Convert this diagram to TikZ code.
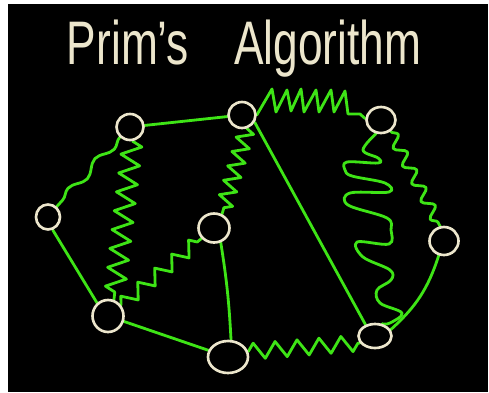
\documentclass[tikz,border=0pt]{standalone}
\usepackage{fontspec}
\setmainfont{Liberation Sans}
\usepackage{xcolor}
\usepackage{tikz}
\usetikzlibrary{shapes.geometric, decorations.pathmorphing, backgrounds, positioning}

\definecolor{chalk}{RGB}{236,230,204}
\definecolor{wire}{RGB}{62,228,22}

\begin{document}
\begin{tikzpicture}[x=0.02cm, y=-0.02cm,
    vertex/.style={ellipse, draw=chalk, line width=1.5pt, fill=black, inner sep=0pt, minimum width=0.54cm, minimum height=0.52cm},
    link/.style={draw=wire, line width=1.6pt, line cap=round, line join=round},
    zig/.style 2 args={link, decorate, decoration={zigzag, amplitude=#1, segment length=#2}},
    wave/.style 2 args={link, decorate, decoration={snake, amplitude=#1, segment length=#2}}]
    \useasboundingbox (0,0) rectangle (489,392);

    % title
    \node (title) [text=chalk, font=\fontsize{35}{40}\selectfont, anchor=base] at (244,64) {\scalebox{0.72}[1]{Prim's\hspace{1.25cm}Algorithm}};

    % vertices
    \node (a) [vertex] at (130,127) {};
    \node (b) [vertex] at (242,115) {};
    \node (c) [vertex, minimum width=0.58cm] at (381,120) {};
    \node (d) [vertex, minimum width=0.48cm, minimum height=0.5cm] at (48,217) {};
    \node (e) [vertex, minimum width=0.62cm, minimum height=0.58cm] at (214,228) {};
    \node (f) [vertex, minimum width=0.58cm, minimum height=0.56cm] at (444,241) {};
    \node (g) [vertex, minimum width=0.62cm, minimum height=0.64cm] at (108,316) {};
    \node (h) [vertex, minimum width=0.8cm, minimum height=0.64cm] at (228,357) {};
    \node (i) [vertex, minimum width=0.66cm, minimum height=0.48cm] at (375,336) {};

    \begin{scope}[on background layer]
        \fill[white] (0,0) rectangle (489,392);
        \fill[black] (8,4) rectangle (488,392);

        % plain edges
        \draw[link] (a) -- (b);
        \draw[link] (d.-70) -- (g.130);
        \draw[link] (g) -- (h);
        \draw[link] (e.-65) to[bend left=3] (h.80);
        \draw[link] (b.-30) -- (i.130);
        \draw[link] (f.-110) to[bend left=15] (i.22);

        % wiggly edges
        \draw[wave={0.08cm}{0.8cm}] (a.-135) -- (d.50);
        \draw[zig={0.2cm}{0.38cm}] (a.-80) -- (g.70);
        \draw[zig={0.16cm}{0.3cm}] (b.-70) -- (e.60);
        \draw[zig={0.14cm}{0.44cm}] (g.40) -- (e.-140);
        \draw[zig={0.16cm}{0.44cm}] (h.15) -- (i.205);
        \draw[wave={0.11cm}{0.4cm}] (c.-50) -- (f.105);
        \draw[link] (b.east) -- (272,89) -- (276,112) -- (287,90) -- (291,111) -- (301,89) -- (304,112)
            -- (316,90) -- (319,112) -- (331,90) -- (334,112) -- (345,91) -- (348,114) -- (360,114) -- (c.175);
        \draw[link] plot[smooth, tension=0.6] coordinates {(c.-110) (363,150) (378,158) (378,163) (347,162)
            (345,170) (352,176) (385,183) (389,192) (350,193) (348,205) (387,218) (391,230) (389,244)
            (357,242) (363,257) (390,270) (391,280) (377,290) (380,303) (402,313) (390,323) (i.60)};
    \end{scope}
\end{tikzpicture}
\end{document}
